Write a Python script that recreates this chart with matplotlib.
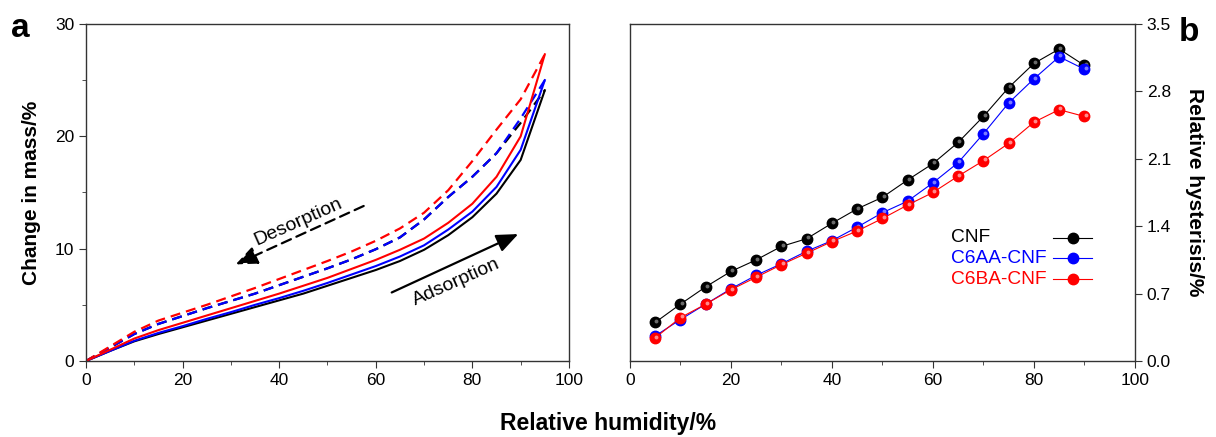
import numpy as np
import matplotlib
matplotlib.use("Agg")
import matplotlib.pyplot as plt
from matplotlib.ticker import MultipleLocator
from matplotlib.transforms import offset_copy

plt.rcParams['font.family'] = ['Liberation Sans', 'DejaVu Sans']

# ---- panel a: sorption isotherms ----
rh = [0, 5, 10, 15, 20, 25, 30, 35, 40, 45, 50, 55, 60, 65, 70, 75, 80, 85, 90, 95]
cnf_ads = [0, 0.9, 1.75, 2.4, 3.0, 3.6, 4.2, 4.8, 5.4, 6.0, 6.7, 7.4, 8.1, 8.9, 9.9, 11.2, 12.8, 14.9, 17.9, 24.1]
c6aa_ads = [0, 0.9, 1.8, 2.5, 3.1, 3.75, 4.35, 5.0, 5.6, 6.25, 6.95, 7.7, 8.45, 9.3, 10.3, 11.7, 13.3, 15.5, 18.8, 25.0]
c6ba_ads = [0, 1.0, 2.0, 2.75, 3.4, 4.05, 4.7, 5.35, 6.0, 6.7, 7.4, 8.2, 9.0, 9.9, 10.9, 12.3, 14.0, 16.4, 20.0, 27.3]
cnf_des = [0, 1.2, 2.4, 3.3, 4.0, 4.7, 5.35, 6.0, 6.75, 7.5, 8.25, 9.05, 9.95, 11.0, 12.6, 14.6, 16.4, 18.5, 21.2, 24.1]
c6aa_des = [0, 1.2, 2.4, 3.3, 4.0, 4.7, 5.35, 6.0, 6.75, 7.5, 8.25, 9.05, 9.95, 11.0, 12.6, 14.6, 16.4, 18.5, 21.6, 25.0]
c6ba_des = [0, 1.3, 2.6, 3.6, 4.3, 5.0, 5.75, 6.5, 7.3, 8.1, 8.9, 9.75, 10.7, 11.8, 13.2, 15.2, 17.8, 20.6, 23.3, 27.3]

# ---- panel b: relative hysteresis ----
rh_b = [5, 10, 15, 20, 25, 30, 35, 40, 45, 50, 55, 60, 65, 70, 75, 80, 85, 90]
cnf_hys = [0.40, 0.59, 0.77, 0.93, 1.05, 1.19, 1.27, 1.43, 1.58, 1.70, 1.88, 2.05, 2.27, 2.54, 2.84, 3.09, 3.24, 3.07]
c6aa_hys = [0.26, 0.43, 0.59, 0.75, 0.89, 1.01, 1.14, 1.25, 1.39, 1.54, 1.66, 1.85, 2.06, 2.36, 2.68, 2.93, 3.16, 3.03]
c6ba_hys = [0.24, 0.45, 0.59, 0.74, 0.87, 1.00, 1.12, 1.24, 1.35, 1.48, 1.62, 1.75, 1.92, 2.08, 2.26, 2.48, 2.61, 2.54]

names = ['CNF', 'C6AA-CNF', 'C6BA-CNF']
colors = ['black', 'blue', 'red']
highlights = ['#6a6a6a', '#7a7aff', '#ff8a8a']

fig = plt.figure(figsize=(12.16, 4.37), dpi=100)
ax1 = fig.add_axes([0.0707, 0.1739, 0.3972, 0.7712])
ax2 = fig.add_axes([0.518, 0.1739, 0.4153, 0.7712])

# panel a
dash = (0, (4.5, 2.7))
ax1.plot(rh, cnf_des, color='black', ls=dash, lw=1.6)
ax1.plot(rh, c6aa_des, color='blue', ls=dash, lw=1.6)
ax1.plot(rh, c6ba_des, color='red', ls=dash, lw=1.6)
ax1.plot(rh, cnf_ads, color='black', lw=1.5)
ax1.plot(rh, c6aa_ads, color='blue', lw=1.5)
ax1.plot(rh, c6ba_ads, color='red', lw=1.5)

ax1.set_xlim(0, 100)
ax1.set_ylim(0, 30)
ax1.xaxis.set_major_locator(MultipleLocator(20))
ax1.xaxis.set_minor_locator(MultipleLocator(10))
ax1.yaxis.set_major_locator(MultipleLocator(10))
ax1.yaxis.set_minor_locator(MultipleLocator(5))
ax1.set_ylabel('Change in mass/%', fontsize=15, fontweight='bold', labelpad=10)

# annotation arrows
head = '-|>,head_length=0.6,head_width=0.25'
ax1.annotate('', xy=(31.0, 8.6), xytext=(57.5, 13.8),
             arrowprops=dict(arrowstyle=head, color='black', lw=1.6,
                             ls=(0, (4.5, 2.7)), mutation_scale=22,
                             shrinkA=0, shrinkB=0))
ax1.text(43.9, 12.4, 'Desorption', rotation=24, fontsize=14,
         ha='center', va='center')
ax1.annotate('', xy=(89.5, 11.3), xytext=(63.3, 6.1),
             arrowprops=dict(arrowstyle=head, color='black', lw=1.6,
                             mutation_scale=22, shrinkA=0, shrinkB=0))
ax1.text(76.6, 7.0, 'Adsorption', rotation=24, fontsize=14,
         ha='center', va='center')

# panel b
hl_tr = offset_copy(ax2.transData, fig=fig, x=0.9, y=0.9, units='points')
for vals, col, hl in zip([cnf_hys, c6aa_hys, c6ba_hys], colors, highlights):
    ax2.plot(rh_b, vals, color=col, lw=0.8, marker='o', ms=7.5,
             mfc=col, mec=col)
    ax2.plot(rh_b, vals, ls='none', marker='o', ms=2.8, mfc=hl, mec='none',
             transform=hl_tr)

ax2.set_xlim(0, 100)
ax2.set_ylim(0, 3.5)
ax2.xaxis.set_major_locator(MultipleLocator(20))
ax2.xaxis.set_minor_locator(MultipleLocator(10))
ax2.yaxis.set_major_locator(MultipleLocator(0.7))
ax2.yaxis.tick_right()
ax2.yaxis.set_label_position('right')
ax2.yaxis.set_major_formatter(plt.FormatStrFormatter('%.1f'))
ax2.set_ylabel('Relative hysterisis/%', fontsize=15, fontweight='bold',
               rotation=-90, labelpad=24)

# legend: left-aligned labels, handles on the right
leg_rows = [0.365, 0.305, 0.243]
for name, col, hl, yy in zip(names, colors, highlights, leg_rows):
    ax2.text(0.636, yy, name, color=col, fontsize=13.8, ha='left',
             va='center', transform=ax2.transAxes)
    ax2.plot([0.838, 0.915], [yy, yy], color=col, lw=0.8,
             transform=ax2.transAxes, clip_on=False)
    ax2.plot([0.8765], [yy], ls='none', marker='o', ms=7.5, mfc=col, mec=col,
             transform=ax2.transAxes, clip_on=False)

for ax in (ax1, ax2):
    for sp in ax.spines.values():
        sp.set_color('#333333')
        sp.set_linewidth(1.0)
    ax.tick_params(which='major', direction='out', length=5, labelsize=12.5,
                   color='#333333')
    ax.tick_params(which='minor', direction='out', length=3, color='#333333')

fig.text(0.5, 0.032, 'Relative humidity/%', ha='center', va='center',
         fontsize=16.5, fontweight='bold')
fig.text(0.009, 0.935, 'a', fontsize=24, fontweight='bold', va='center')
fig.text(0.969, 0.925, 'b', fontsize=24, fontweight='bold', va='center')

fig.savefig('out.png', dpi=100)
